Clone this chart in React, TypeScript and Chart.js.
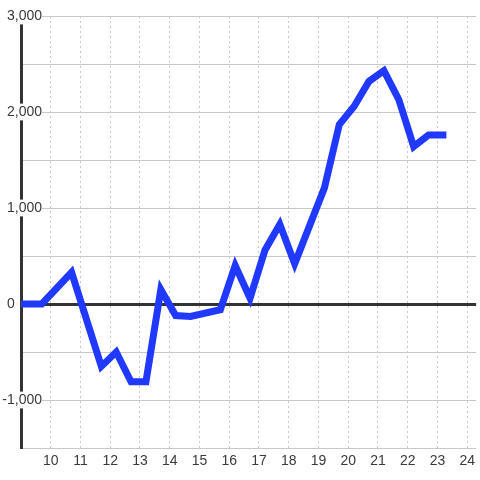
import React, { useEffect, useRef } from 'react';
import { Chart, registerables } from 'chart.js';

Chart.register(...registerables);

// Data
const xValues = [8.7, 9.7, 10.7, 11.7, 12.2, 12.7, 13.2, 13.7, 14.2, 14.7, 15.7, 16.2, 16.7, 17.2, 17.7, 18.2, 19.2, 19.7, 20.2, 20.7, 21.2, 21.7, 22.2, 22.7, 23.3];
const yValues = [0, 0, 330, -650, -500, -810, -810, 150, -120, -130, -60, 400, 60, 560, 830, 420, 1210, 1870, 2060, 2320, 2430, 2130, 1640, 1760, 1760];
const xTicks = [10, 11, 12, 13, 14, 15, 16, 17, 18, 19, 20, 21, 22, 23, 24];
const yTicks = [-1500, -1000, -500, 0, 500, 1000, 1500, 2000, 2500, 3000];
const yLabelled = [-1000, 0, 1000, 2000, 3000];

const FONT = { family: "'Liberation Sans', Arial, sans-serif", size: 14 };
const TEXT = '#3a3a3a';
const GRID = '#c8c8c8';
const DARK = '#333333';
const LINE = '#2138ff';

const hangMinus = {
  id: 'hangMinus',
  beforeDraw(chart: any) {
    const scale = chart.scales.y;
    if (!scale) return;
    const items = scale.getLabelItems(chart.chartArea);
    const ctx = chart.ctx;
    items.forEach((it: any) => {
      if (it._hung) return;
      const label = String(it.label);
      if (label.startsWith('-')) {
        ctx.save();
        ctx.font = it.font.string;
        const w = ctx.measureText('-').width;
        ctx.restore();
        it.options.translation[0] -= w;
      }
      it._hung = true;
    });
  },
};

export default function App() {
  const ref = useRef<HTMLCanvasElement | null>(null);

  useEffect(() => {
    if (!ref.current) return;
    const chart = new Chart(ref.current, {
      type: 'line',
      data: {
        datasets: [
          {
            data: xValues.map((x, i) => ({ x, y: yValues[i] })),
            borderColor: LINE,
            backgroundColor: LINE,
            borderWidth: 7,
            pointRadius: 0,
            pointHoverRadius: 0,
            tension: 0,
            fill: false,
          },
        ],
      },
      options: {
        animation: false,
        responsive: false,
        events: [],
        layout: { padding: { left: 7, top: 16, right: 0, bottom: 0 } },
        plugins: {
          legend: { display: false },
          tooltip: { enabled: false },
        },
        scales: {
          x: {
            type: 'linear',
            min: 9,
            max: 24.3,
            afterBuildTicks: (s: any) => {
              s.ticks = xTicks.map((v) => ({ value: v }));
            },
            afterFit: (s: any) => {
              s.height = 32;
            },
            grid: { color: GRID, lineWidth: 1, drawTicks: false },
            border: { display: false, dash: [2, 3] },
            ticks: {
              padding: 5,
              color: TEXT,
              font: FONT,
              maxRotation: 0,
              autoSkip: false,
              callback: (v: any) => String(v),
            },
          },
          y: {
            type: 'linear',
            min: -1500,
            max: 3000,
            afterBuildTicks: (s: any) => {
              s.ticks = yTicks.map((v) => ({ value: v }));
            },
            afterFit: (s: any) => {
              s.width = 14;
            },
            grid: {
              color: (c: any) => (c.tick && c.tick.value === 0 ? DARK : GRID),
              lineWidth: (c: any) => (c.tick && c.tick.value === 0 ? 3 : 1),
              drawTicks: false,
            },
            border: { display: true, color: DARK, width: 3 },
            ticks: {
              mirror: true,
              crossAlign: 'near',
              padding: -14,
              color: TEXT,
              font: FONT,
              autoSkip: false,
              callback: (v: any) => (yLabelled.includes(v) ? Number(v).toLocaleString('en-US') : ''),
              showLabelBackdrop: (c: any) => !!c.tick && yLabelled.includes(c.tick.value),
              backdropColor: '#ffffff',
              backdropPadding: (c: any) =>
                c.tick && c.tick.value === 0
                  ? { left: 2, right: 2, top: 0, bottom: 0 }
                  : { left: 2, right: 6, top: 0, bottom: 0 },
            },
          },
        },
      } as any,
      plugins: [hangMinus],
    });
    return () => chart.destroy();
  }, []);

  return (
    <div style={{ position: 'fixed', left: 0, top: 0, width: 480, height: 480, background: '#ffffff' }}>
      <canvas ref={ref} width={480} height={480} style={{ display: 'block', width: 480, height: 480 }} />
    </div>
  );
}
